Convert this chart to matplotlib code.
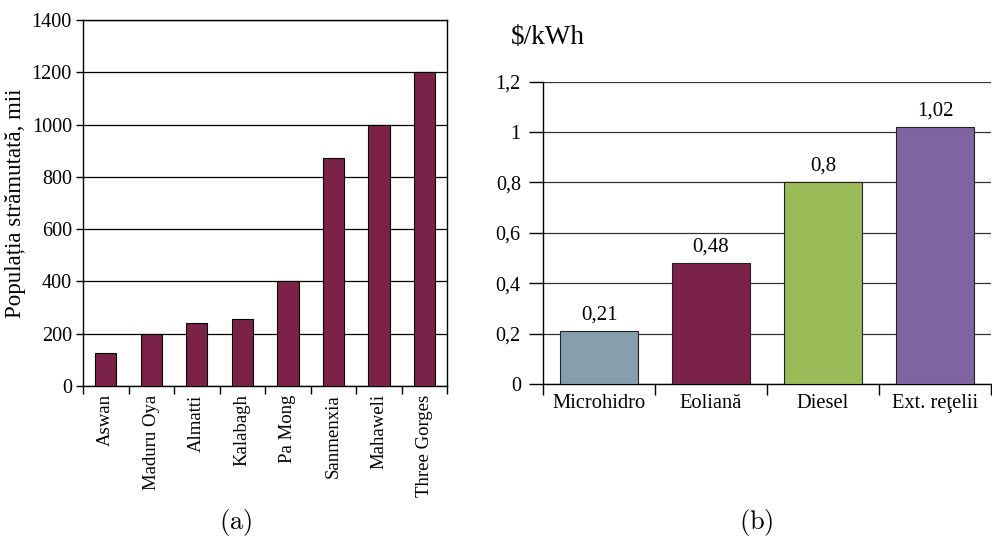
import matplotlib.pyplot as plt

plt.rcParams['font.family'] = ['Liberation Serif', 'DejaVu Serif']
plt.rcParams['mathtext.fontset'] = 'cm'

# (a) displaced population per dam project, thousands
dams = ["Aswan", "Maduru Oya", "Almatti", "Kalabagh", "Pa Mong",
        "Sanmenxia", "Mahaweli", "Three Gorges"]
displaced = [127, 200, 239, 256, 400, 872, 1000, 1200]
dam_yticks = [0, 200, 400, 600, 800, 1000, 1200, 1400]

# (b) electricity cost per source, $/kWh
sources = ["Microhidro", "Eoliană", "Diesel", "Ext. reţelii"]
cost = [0.21, 0.48, 0.80, 1.02]
cost_labels = ["0,21", "0,48", "0,8", "1,02"]
cost_yticks = [0, 0.2, 0.4, 0.6, 0.8, 1.0, 1.2]
cost_yticklabels = ["0", "0,2", "0,4", "0,6", "0,8", "1", "1,2"]
source_colors = ["#869fac", "#7b2249", "#9bbb59", "#8064a2"]

fig = plt.figure(figsize=(9.92, 5.36), dpi=100)

# left panel
ax1 = fig.add_axes([0.0837, 0.2799, 0.367, 0.6828])
x1 = range(len(dams))
ax1.bar(x1, displaced, width=0.47, color="#7b2249", edgecolor="black",
        linewidth=0.8, zorder=3)
ax1.set_xlim(-0.5, len(dams) - 0.5)
ax1.set_ylim(0, 1400)
ax1.set_yticks(dam_yticks)
ax1.set_yticklabels([str(v) for v in dam_yticks])
ax1.yaxis.grid(True, color="black", linewidth=0.9)
ax1.set_axisbelow(True)
ax1.set_xticks([i + 0.5 for i in range(-1, len(dams))], minor=False)
ax1.set_xticklabels([])
ax1.set_xticks(list(x1), minor=True)
ax1.set_xticklabels(dams, minor=True, rotation=90, fontsize=13.5)
ax1.tick_params(axis="x", which="minor", length=0, pad=6)
ax1.tick_params(axis="x", which="major", length=6, width=1, direction="out")
ax1.tick_params(axis="y", length=5, width=1, labelsize=14.5, pad=3)
ax1.set_ylabel("Populația strămutată, mii", fontsize=16.5, labelpad=4)
for s in ax1.spines.values():
    s.set_linewidth(1)

# right panel
ax2 = fig.add_axes([0.5474, 0.2836, 0.4516, 0.564])
x2 = range(len(sources))
bars = ax2.bar(x2, cost, width=0.69, color=source_colors,
               edgecolor="#222222", linewidth=0.8, zorder=3)
for b, lab in zip(bars, cost_labels):
    ax2.annotate(lab, (b.get_x() + b.get_width() / 2, b.get_height()),
                 xytext=(0, 5), textcoords="offset points",
                 ha="center", va="bottom", fontsize=15)
ax2.set_xlim(-0.5, len(sources) - 0.5)
ax2.set_ylim(0, 1.2)
ax2.set_yticks(cost_yticks)
ax2.set_yticklabels(cost_yticklabels)
ax2.yaxis.grid(True, color="#333333", linewidth=0.9)
ax2.set_axisbelow(True)
ax2.set_xticks([i + 0.5 for i in range(-1, len(sources))], minor=False)
ax2.set_xticklabels([])
ax2.set_xticks(list(x2), minor=True)
ax2.set_xticklabels(sources, minor=True, fontsize=14.8)
ax2.tick_params(axis="x", which="minor", length=0, pad=7)
ax2.tick_params(axis="x", which="major", length=8, width=1, direction="out")
ax2.tick_params(axis="y", length=10, width=1, labelsize=14.5, pad=6)
ax2.spines["right"].set_visible(False)
ax2.spines["top"].set_visible(False)
for s in ax2.spines.values():
    s.set_linewidth(1)
ax2.text(-0.072, 1.145, "$/kWh", transform=ax2.transAxes, fontsize=19.5,
         ha="left", va="center")

# panel captions
fig.text(0.237, 0.026, r"$\mathrm{(a)}$", fontsize=19, ha="center", va="center")
fig.text(0.762, 0.026, r"$\mathrm{(b)}$", fontsize=19, ha="center", va="center")

fig.savefig("out.png", dpi=100)
